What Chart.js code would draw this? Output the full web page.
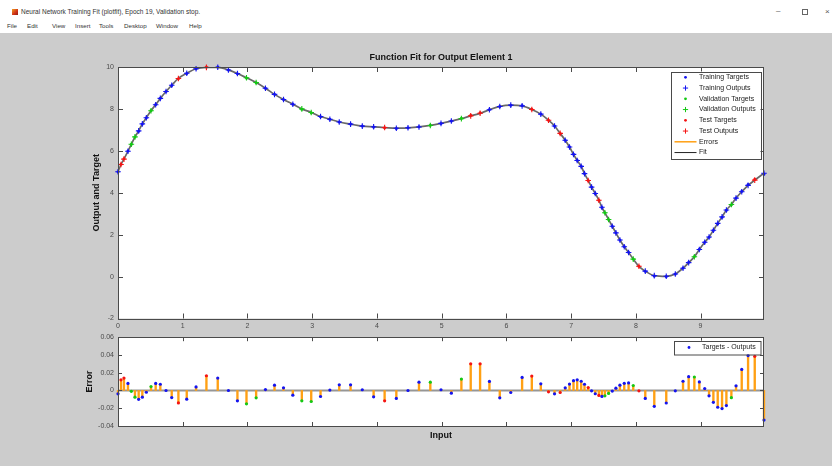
<!DOCTYPE html>
<html>
<head>
<meta charset="utf-8">
<title>plotfit</title>
<script src="https://cdn.jsdelivr.net/npm/chart.js@4/dist/chart.umd.min.js"></script>
<style>
    body { margin: 0; width: 832px; height: 466px; overflow: hidden; background: #cccccc; font-family: "Liberation Sans", Arial, sans-serif; }
    #titlebar { position: absolute; left: 0; top: 0; width: 832px; height: 19px; background: #ffffff; }
    #menubar { position: absolute; left: 0; top: 19px; width: 832px; height: 14px; background: #ffffff; }
    .txt { position: absolute; font-size: 6.2px; color: #333; white-space: nowrap; line-height: 8px; }
    .icon { position: absolute; left: 12px; top: 9px; width: 6px; height: 6px; background: linear-gradient(135deg, #f0a020 0%, #d03018 60%, #902010 100%); }
    .ctl { position: absolute; font-size: 8px; color: #555; line-height: 8px; }
    .restore { position: absolute; left: 802px; top: 9px; width: 4px; height: 4px; border: 1px solid #666; }
    canvas { position: absolute; left: 0; }
</style>
</head>
<body>
<div id="titlebar">
    <div class="icon"></div>
    <div class="txt" style="left:21px; top:8px; font-size:6.5px;">Neural Network Training Fit (plotfit), Epoch 19, Validation stop.</div>
    <div class="ctl" style="left:776px; top:7px;">&#8211;</div>
    <div class="restore"></div>
    <div class="ctl" style="left:825px; top:8px;">&#215;</div>
</div>
<div id="menubar">
    <div class="txt" style="left:7px; top:3px;">File</div>
    <div class="txt" style="left:27px; top:3px;">Edit</div>
    <div class="txt" style="left:52px; top:3px;">View</div>
    <div class="txt" style="left:75px; top:3px;">Insert</div>
    <div class="txt" style="left:99px; top:3px;">Tools</div>
    <div class="txt" style="left:124px; top:3px;">Desktop</div>
    <div class="txt" style="left:156px; top:3px;">Window</div>
    <div class="txt" style="left:189px; top:3px;">Help</div>
</div>

<canvas id="fitChart" width="832" height="300" style="top:33px"></canvas>
<canvas id="errorChart" width="832" height="137" style="top:329px"></canvas>

<script>
"use strict";

// Sample inputs (94 samples)
var inputs = [
    0.000, 0.046, 0.092, 0.154, 0.206, 0.262, 0.319, 0.376, 0.438, 0.510,
    0.582, 0.654, 0.742, 0.830, 0.933, 1.062, 1.206, 1.366, 1.541, 1.706,
    1.845, 1.985, 2.134, 2.278, 2.418, 2.557, 2.701, 2.840, 2.985, 3.129,
    3.273, 3.418, 3.593, 3.774, 3.949, 4.119, 4.300, 4.480, 4.650, 4.825,
    4.990, 5.150, 5.305, 5.449, 5.594, 5.738, 5.898, 6.068, 6.243, 6.393,
    6.532, 6.651, 6.744, 6.831, 6.909, 6.975, 7.037, 7.094, 7.156, 7.207,
    7.264, 7.316, 7.373, 7.429, 7.476, 7.522, 7.579, 7.636, 7.692, 7.754,
    7.821, 7.888, 7.960, 8.048, 8.146, 8.285, 8.470, 8.610, 8.729, 8.816,
    8.904, 8.981, 9.064, 9.131, 9.198, 9.265, 9.332, 9.399, 9.476, 9.548,
    9.636, 9.734, 9.837, 9.980
];

// Targets
var targets = [
    5.00, 5.36, 5.62, 5.99, 6.31, 6.66, 6.94, 7.28, 7.58, 7.92,
    8.21, 8.51, 8.83, 9.12, 9.44, 9.69, 9.92, 10.00, 10.00, 9.86,
    9.68, 9.47, 9.25, 8.99, 8.70, 8.45, 8.22, 7.99, 7.82, 7.63,
    7.51, 7.38, 7.28, 7.18, 7.14, 7.10, 7.07, 7.10, 7.15, 7.22,
    7.31, 7.42, 7.55, 7.70, 7.82, 7.97, 8.11, 8.18, 8.16, 7.99,
    7.76, 7.46, 7.18, 6.83, 6.51, 6.19, 5.84, 5.55, 5.27, 4.92,
    4.59, 4.27, 3.96, 3.64, 3.30, 3.04, 2.72, 2.40, 2.09, 1.75,
    1.43, 1.16, 0.84, 0.49, 0.25, 0.03, 0.00, 0.12, 0.41, 0.68,
    0.96, 1.30, 1.64, 1.88, 2.20, 2.52, 2.83, 3.16, 3.43, 3.75,
    4.07, 4.39, 4.64, 4.90
];

// Errors (targets - outputs)
var errors = [
    -0.0038, 0.0120, 0.0140, 0.0080, -0.0010, -0.0075, -0.0100, -0.0075, -0.0020, 0.0045,
    0.0080, 0.0070, 0.0000, -0.0080, -0.0140, -0.0098, 0.0040, 0.0166, 0.0140, 0.0000,
    -0.0117, -0.0150, -0.0083, 0.0010, 0.0060, 0.0030, -0.0053, -0.0117, -0.0124, -0.0068,
    0.0004, 0.0064, 0.0064, 0.0008, -0.0072, -0.0117, -0.0090, 0.0000, 0.0094, 0.0094,
    0.0008, -0.0030, 0.0128, 0.0300, 0.0300, 0.0102, -0.0083, -0.0023, 0.0147, 0.0162,
    0.0075, -0.0015, -0.0038, -0.0023, 0.0030, 0.0072, 0.0110, 0.0120, 0.0104, 0.0070,
    0.0033, -0.0004, -0.0037, -0.0056, -0.0067, -0.0060, -0.0033, -0.0007, 0.0026, 0.0060,
    0.0081, 0.0085, 0.0056, -0.0004, -0.0089, -0.0178, -0.0141, -0.0004, 0.0104, 0.0156,
    0.0152, 0.0096, 0.0022, -0.0060, -0.0133, -0.0189, -0.0204, -0.0170, -0.0081, 0.0052,
    0.0237, 0.0393, 0.0385, -0.0333
];

// Sample numbers (1-based) held out for validation and test
var validationSamples = [5, 6, 10, 22, 23, 28, 29, 40, 43, 66, 67, 73, 81, 89];
var testSamples = [2, 3, 15, 18, 36, 44, 45, 50, 52, 54, 61, 64, 74, 93];

var xTicks = [0, 1, 2, 3, 4, 5, 6, 7, 8, 9];
var fitTicks = [-2, 0, 2, 4, 6, 8, 10];
var errorTicks = [-0.04, -0.02, 0, 0.02, 0.04, 0.06];

var BLUE = "rgb(20, 20, 240)";
var GREEN = "rgb(20, 200, 20)";
var RED = "rgb(245, 20, 20)";
var ORANGE = "rgb(255, 160, 20)";
var AXIS = "#4a4a4a";
var TICKTEXT = "#4a4a4a";
var FONT = "'Liberation Sans', Arial, sans-serif";

// Which data division a sample belongs to
function subsetOf(n) {
    if (testSamples.indexOf(n) >= 0) return "test";
    if (validationSamples.indexOf(n) >= 0) return "val";
    return "train";
}

var groups = [
    { key: "train", name: "Training", color: BLUE },
    { key: "val", name: "Validation", color: GREEN },
    { key: "test", name: "Test", color: RED }
];

var outputs = targets.map(function (t, i) { return t - errors[i]; });

function pointsFor(key, values) {
    var pts = [];
    for (var i = 0; i < inputs.length; i++) {
        if (subsetOf(i + 1) === key) pts.push({ x: inputs[i], y: values[i] });
    }
    return pts;
}

// White axes background
var axesBackground = {
    id: "axesBackground",
    beforeDraw: function (chart) {
        var a = chart.chartArea;
        var ctx = chart.ctx;
        ctx.save();
        ctx.fillStyle = "#ffffff";
        ctx.fillRect(a.left, a.top, a.width, a.height);
        ctx.restore();
    }
};

// Box outline with inward tick marks on all four sides
var axesBox = {
    id: "axesBox",
    afterDraw: function (chart, args, opts) {
        var a = chart.chartArea;
        var ctx = chart.ctx;
        var sx = chart.scales.x;
        var sy = chart.scales.y;
        var len = opts.tickLength || 5;
        ctx.save();
        ctx.strokeStyle = AXIS;
        ctx.lineWidth = 1;
        ctx.beginPath();
        sx.ticks.forEach(function (t) {
            var px = Math.round(sx.getPixelForValue(t.value)) + 0.5;
            ctx.moveTo(px, a.bottom); ctx.lineTo(px, a.bottom - len);
            ctx.moveTo(px, a.top); ctx.lineTo(px, a.top + len);
        });
        sy.ticks.forEach(function (t) {
            var py = Math.round(sy.getPixelForValue(t.value)) + 0.5;
            ctx.moveTo(a.left, py); ctx.lineTo(a.left + len, py);
            ctx.moveTo(a.right, py); ctx.lineTo(a.right - len, py);
        });
        ctx.stroke();
        ctx.strokeRect(Math.round(a.left) + 0.5, Math.round(a.top) + 0.5, Math.round(a.width) - 1, Math.round(a.height));
        ctx.restore();
    }
};

// Plot title centred over the axes
var axesTitle = {
    id: "axesTitle",
    afterDraw: function (chart, args, opts) {
        if (!opts.text) return;
        var a = chart.chartArea;
        var ctx = chart.ctx;
        ctx.save();
        ctx.font = "bold 9px " + FONT;
        ctx.fillStyle = "#111";
        ctx.textAlign = "center";
        ctx.textBaseline = "middle";
        ctx.fillText(opts.text, (a.left + a.right) / 2, a.top - 9);
        ctx.restore();
    }
};

// Legend box drawn inside the axes, top right corner
var boxLegend = {
    id: "boxLegend",
    afterDraw: function (chart, args, opts) {
        if (!opts.items) return;
        var a = chart.chartArea;
        var ctx = chart.ctx;
        var left = a.right - opts.right - opts.width;
        var top = a.top + opts.top;
        ctx.save();
        ctx.fillStyle = "#ffffff";
        ctx.fillRect(left, top, opts.width, opts.height);
        ctx.strokeStyle = AXIS;
        ctx.lineWidth = 1;
        ctx.strokeRect(Math.round(left) + 0.5, Math.round(top) + 0.5, opts.width, opts.height);

        ctx.font = "7px " + FONT;
        ctx.textBaseline = "middle";
        ctx.textAlign = "left";
        for (var i = 0; i < opts.items.length; i++) {
            var it = opts.items[i];
            var y = top + opts.first + i * opts.step;
            var mx = left + opts.markerX;
            ctx.strokeStyle = it.color;
            ctx.fillStyle = it.color;
            if (it.style === "dot") {
                ctx.beginPath();
                ctx.arc(mx, y, 1.4, 0, Math.PI * 2);
                ctx.fill();
            } else if (it.style === "plus") {
                ctx.beginPath();
                ctx.moveTo(mx - 2.6, y); ctx.lineTo(mx + 2.6, y);
                ctx.moveTo(mx, y - 2.6); ctx.lineTo(mx, y + 2.6);
                ctx.stroke();
            } else {
                ctx.lineWidth = it.width || 1;
                ctx.beginPath();
                ctx.moveTo(left + 4, y); ctx.lineTo(left + 26, y);
                ctx.stroke();
                ctx.lineWidth = 1;
            }
            ctx.fillStyle = "#222";
            ctx.fillText(it.label, left + opts.textX, y);
        }
        ctx.restore();
    }
};

function tickFont() {
    return { family: FONT, size: 7 };
}

function fixedTicks(list) {
    return function (scale) {
        scale.ticks = list.map(function (v) { return { value: v }; });
    };
}

function createFitChart() {
    var datasets = [];

    groups.forEach(function (g) {
        datasets.push({
            label: g.name + " Outputs",
            data: pointsFor(g.key, outputs),
            pointStyle: "cross",
            pointRadius: 2.8,
            borderWidth: 1.1,
            borderColor: g.color,
            backgroundColor: g.color,
            clip: false,
            order: 1
        });
        datasets.push({
            label: g.name + " Targets",
            data: pointsFor(g.key, targets),
            pointStyle: "circle",
            pointRadius: 1.5,
            borderWidth: 0,
            borderColor: g.color,
            backgroundColor: g.color,
            clip: false,
            order: 2
        });
    });

    // Fit curve through the network outputs
    datasets.push({
        type: "line",
        label: "Fit",
        data: inputs.map(function (x, i) { return { x: x, y: outputs[i] }; }),
        borderColor: "rgb(105, 105, 105)",
        borderWidth: 1.7,
        pointRadius: 0,
        cubicInterpolationMode: "monotone",
        fill: false,
        order: 10
    });

    var legendItems = [];
    groups.forEach(function (g) {
        legendItems.push({ label: g.name + " Targets", color: g.color, style: "dot" });
        legendItems.push({ label: g.name + " Outputs", color: g.color, style: "plus" });
    });
    legendItems.push({ label: "Errors", color: ORANGE, style: "line", width: 1.5 });
    legendItems.push({ label: "Fit", color: "#222", style: "line", width: 1 });

    var ctx = document.getElementById("fitChart").getContext("2d");
    return new Chart(ctx, {
        type: "scatter",
        data: { datasets: datasets },
        plugins: [axesBackground, axesBox, axesTitle, boxLegend],
        options: {
            responsive: false,
            animation: false,
            events: [],
            layout: { padding: { left: 0, right: 68, top: 34, bottom: 0 } },
            plugins: {
                legend: { display: false },
                tooltip: { enabled: false },
                title: { display: false },
                axesBox: { tickLength: 5 },
                axesTitle: { text: "Function Fit for Output Element 1" },
                boxLegend: {
                    items: legendItems,
                    right: 3.5, top: 4.5, width: 90, height: 87,
                    first: 5.8, step: 10.75, markerX: 15, textX: 28.5
                }
            },
            scales: {
                x: {
                    type: "linear",
                    min: 0,
                    max: inputs[inputs.length - 1],
                    offset: false,
                    grid: { display: false, drawTicks: false },
                    border: { display: false },
                    afterBuildTicks: fixedTicks(xTicks),
                    ticks: { padding: 3, color: TICKTEXT, font: tickFont(), maxRotation: 0, autoSkip: false },
                    afterFit: function (s) { s.height = 14.5; }
                },
                y: {
                    min: -2,
                    max: 10,
                    grid: { display: false, drawTicks: false },
                    border: { display: false },
                    afterBuildTicks: fixedTicks(fitTicks),
                    ticks: { padding: 4, color: TICKTEXT, font: tickFont() },
                    title: {
                        display: true,
                        text: "Output and Target",
                        color: "#111",
                        font: { family: FONT, size: 9, weight: "bold" },
                        padding: { top: 91, bottom: 0 }
                    },
                    afterFit: function (s) { s.width = 118; }
                }
            }
        }
    });
}

function createErrorChart() {
    var datasets = [];

    groups.forEach(function (g) {
        datasets.push({
            label: g.name + " Errors",
            data: pointsFor(g.key, errors),
            pointStyle: "circle",
            pointRadius: 1.6,
            borderWidth: 0,
            backgroundColor: g.color,
            clip: false,
            order: 0
        });
    });

    // Stems from zero to each error
    datasets.push({
        type: "bar",
        label: "Errors",
        data: inputs.map(function (x, i) { return { x: x, y: errors[i] }; }),
        backgroundColor: ORANGE,
        borderWidth: 0,
        barThickness: 1.7,
        clip: false,
        order: 1
    });

    // Zero baseline
    datasets.push({
        type: "line",
        label: "Zero",
        data: [{ x: 0, y: 0 }, { x: inputs[inputs.length - 1], y: 0 }],
        borderColor: "rgb(150, 150, 150)",
        borderWidth: 2,
        pointRadius: 0,
        order: 2
    });

    var ctx = document.getElementById("errorChart").getContext("2d");
    return new Chart(ctx, {
        type: "scatter",
        data: { datasets: datasets },
        plugins: [axesBackground, axesBox, boxLegend],
        options: {
            responsive: false,
            animation: false,
            events: [],
            layout: { padding: { left: 0, right: 68, top: 0, bottom: 0 } },
            plugins: {
                legend: { display: false },
                tooltip: { enabled: false },
                axesBox: { tickLength: 4 },
                boxLegend: {
                    items: [{ label: "Targets - Outputs", color: BLUE, style: "dot" }],
                    right: 3.5, top: 3.5, width: 86.5, height: 13.5,
                    first: 6.8, step: 10, markerX: 15, textX: 28
                }
            },
            scales: {
                x: {
                    type: "linear",
                    min: 0,
                    max: inputs[inputs.length - 1],
                    offset: false,
                    grid: { display: false, drawTicks: false },
                    border: { display: false },
                    afterBuildTicks: fixedTicks(xTicks),
                    ticks: { display: false },
                    title: {
                        display: true,
                        text: "Input",
                        color: "#111",
                        font: { family: FONT, size: 9, weight: "bold" },
                        padding: { top: 0, bottom: 25 }
                    },
                    afterFit: function (s) { s.height = 40; }
                },
                y: {
                    min: -0.04,
                    max: 0.06,
                    grid: { display: false, drawTicks: false },
                    border: { display: false },
                    afterBuildTicks: fixedTicks(errorTicks),
                    ticks: {
                        padding: 4,
                        color: TICKTEXT,
                        font: tickFont(),
                        callback: function (v) { return v === 0 ? "0" : v.toFixed(2); }
                    },
                    title: {
                        display: true,
                        text: "Error",
                        color: "#111",
                        font: { family: FONT, size: 9, weight: "bold" },
                        padding: { top: 84.5, bottom: 0 }
                    },
                    afterFit: function (s) { s.width = 118; }
                }
            }
        }
    });
}

window.onload = function () {
    createFitChart();
    createErrorChart();
};
</script>
</body>
</html>
